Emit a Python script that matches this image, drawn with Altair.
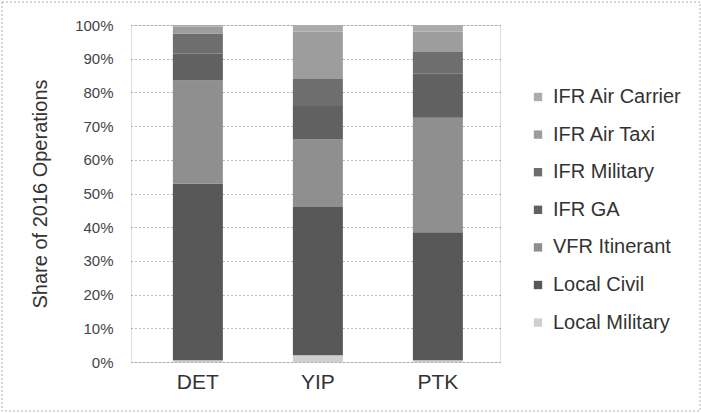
import altair as alt
import pandas as pd

airports = ["DET", "YIP", "PTK"]
categories = ["IFR Air Carrier", "IFR Air Taxi", "IFR Military", "IFR GA",
              "VFR Itinerant", "Local Civil", "Local Military"]
# stack order bottom -> top
stack_order = ["Local Military", "Local Civil", "VFR Itinerant", "IFR GA",
               "IFR Military", "IFR Air Taxi", "IFR Air Carrier"]
shares = {
    "DET": [0.5, 52.5, 30.5, 8.0, 6.0, 2.0, 0.5],
    "YIP": [2.0, 44.0, 20.0, 10.0, 8.0, 14.0, 2.0],
    "PTK": [0.5, 38.0, 34.0, 13.0, 6.5, 6.0, 2.0],
}
colors = ["#ababab", "#9d9d9d", "#6e6e6e", "#616161", "#8f8f8f", "#585858", "#cfcfcf"]
y_ticks = [i / 10 for i in range(11)]

rows = []
for a in airports:
    for i, c in enumerate(stack_order):
        rows.append({"airport": a, "category": c, "share": shares[a][i], "order": i})
df = pd.DataFrame(rows)

FONT = "Liberation Sans"

bars = alt.Chart(df).mark_bar(size=50).encode(
    x=alt.X("airport:N", sort=airports, title=None,
            scale=alt.Scale(paddingInner=0.583, paddingOuter=0.329, align=0.53),
            axis=alt.Axis(labelAngle=0, labelFontSize=21, labelColor="#333333",
                          labelFont=FONT, ticks=False, domain=False, labelPadding=9)),
    y=alt.Y("share:Q", stack="normalize", title="Share of 2016 Operations",
            scale=alt.Scale(domain=[0, 1]),
            axis=alt.Axis(values=y_ticks, format=".0%", labelFontSize=15,
                          labelColor="#444444", labelFont=FONT, ticks=False,
                          domain=False, labelPadding=18, gridDash=[1, 3],
                          gridColor="#777777", gridWidth=1,
                          titleFontSize=20, titleFont=FONT, titleFontWeight="normal",
                          titleColor="#333333", titlePadding=24)),
    color=alt.Color("category:N", sort=categories,
                    scale=alt.Scale(domain=categories, range=colors),
                    legend=alt.Legend(title=None, orient="none", legendX=397, legendY=62,
                                      symbolType="square", symbolSize=70,
                                      symbolStrokeWidth=0, labelFontSize=20,
                                      labelFont=FONT, labelColor="#333333",
                                      rowPadding=17.6, labelOffset=5)),
    order=alt.Order("order:Q", sort="ascending"),
)

border = alt.Chart(pd.DataFrame({"k": [0]})).mark_rect(
    fill=None, stroke="#b0b0b0", strokeDash=[2, 2], strokeWidth=1
).encode(x=alt.value(-129), x2=alt.value(569), y=alt.value(-23), y2=alt.value(386))

chart = alt.layer(border, bars).properties(
    width=369, height=337,
    autosize=alt.AutoSizeParams(type="none"),
    padding={"left": 131, "top": 25, "right": 201, "bottom": 51},
).configure_view(stroke=None).configure(background="white")

chart.save("out.html", embed_options={"renderer": "svg", "actions": False})
